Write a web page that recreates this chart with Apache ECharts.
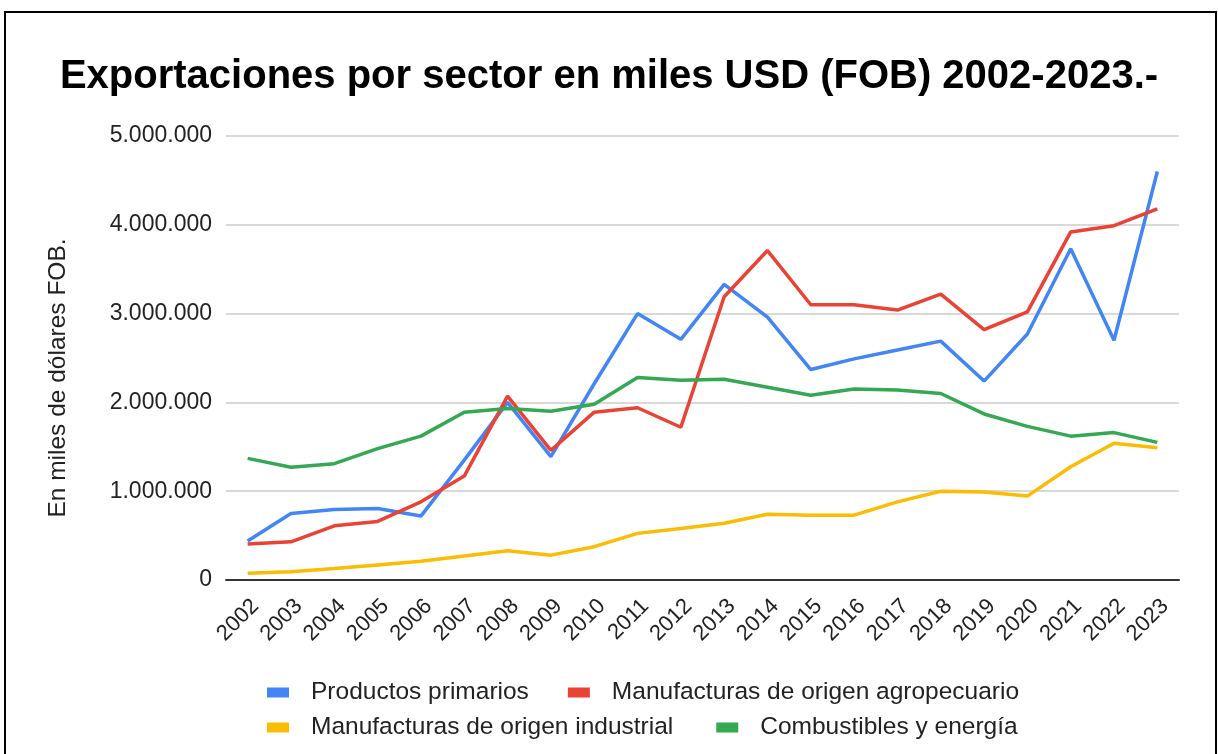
<!DOCTYPE html>
<html>
<head>
<meta charset="utf-8">
<script src="https://cdn.jsdelivr.net/npm/echarts@6/dist/echarts.min.js"></script>
<style>
  html, body { margin: 0; padding: 0; background: #fff; }
  #main { width: 1218px; height: 754px; }
</style>
</head>
<body>
<div id="main"></div>
<script>
// 年份（类目轴）
var years = ['2002', '2003', '2004', '2005', '2006', '2007', '2008', '2009', '2010', '2011',
  '2012', '2013', '2014', '2015', '2016', '2017', '2018', '2019', '2020', '2021', '2022', '2023'];

// 各部门出口（千美元）
var primarios = [440000, 750000, 795000, 806000, 720000, 1350000, 2000000, 1390000, 2210000, 3000000,
  2710000, 3330000, 2960000, 2370000, 2490000, 2590000, 2690000, 2240000, 2770000, 3730000, 2700000, 4600000];
var agropecuario = [405000, 430000, 610000, 660000, 880000, 1170000, 2070000, 1460000, 1890000, 1940000,
  1720000, 3190000, 3710000, 3100000, 3100000, 3040000, 3220000, 2820000, 3020000, 3920000, 3990000, 4180000];
var industrial = [75000, 94000, 130000, 170000, 210000, 270000, 330000, 280000, 375000, 525000,
  580000, 640000, 740000, 730000, 730000, 880000, 1000000, 990000, 945000, 1275000, 1540000, 1490000];
var combustibles = [1370000, 1270000, 1310000, 1480000, 1620000, 1890000, 1930000, 1900000, 1980000, 2280000,
  2250000, 2260000, 2170000, 2080000, 2150000, 2140000, 2100000, 1870000, 1730000, 1620000, 1660000, 1550000];

var seriesNames = ['Productos primarios', 'Manufacturas de origen agropecuario',
  'Manufacturas de origen industrial', 'Combustibles y energía'];
var seriesColors = ['#4285F4', '#EA4335', '#FBBC04', '#34A853'];

var FONT = 'Liberation Sans, Arial, sans-serif';

// 千位分隔符用点
function fmt(v) {
  return String(v).replace(/\B(?=(\d{3})+(?!\d))/g, '.');
}

var myChart = echarts.init(document.getElementById('main'));

function makeSeries(name, data, color) {
  return {
    name: name,
    type: 'line',
    data: data,
    symbol: 'none',
    lineStyle: { color: color, width: 3.5 },
    itemStyle: { color: color }
  };
}

var legendText = { fontFamily: FONT, fontSize: 24.5, color: '#222', padding: [0, 0, 0, 17] };

var option = {
  backgroundColor: '#fff',
  animation: false,
  title: {
    text: 'Exportaciones por sector en miles USD (FOB) 2002-2023.-',
    left: 'center',
    top: 52,
    textStyle: { fontFamily: FONT, fontSize: 40, fontWeight: 'bold', color: '#000' }
  },
  graphic: [{
    type: 'rect',
    shape: { x: 5, y: 12, width: 1211, height: 800 },
    style: { fill: 'none', stroke: '#000', lineWidth: 2 },
    silent: true
  }],
  legend: [{
    data: seriesNames.slice(0, 2),
    left: 262,
    top: 675,
    itemWidth: 22,
    itemHeight: 10,
    itemGap: 39,
    icon: 'rect',
    textStyle: legendText
  }, {
    data: seriesNames.slice(2, 4),
    left: 262,
    top: 710,
    itemWidth: 22,
    itemHeight: 10,
    itemGap: 43,
    icon: 'rect',
    textStyle: legendText
  }],
  grid: { left: 226, right: 39, top: 136, bottom: 174 },
  xAxis: {
    type: 'category',
    data: years,
    boundaryGap: true,
    axisTick: { show: false },
    axisLine: { lineStyle: { color: '#333', width: 2 } },
    axisLabel: {
      rotate: 45, fontFamily: FONT, fontSize: 22, color: '#222', margin: 15, interval: 0,
      verticalAlign: 'top'
    }
  },
  yAxis: {
    type: 'value',
    min: 0,
    max: 5000000,
    interval: 1000000,
    name: 'En miles de dólares FOB.',
    nameLocation: 'middle',
    nameGap: 155,
    nameTextStyle: { fontFamily: FONT, fontSize: 24.5, color: '#222', padding: [0, 40, 0, 0] },
    axisLine: { show: false },
    axisTick: { show: false },
    splitLine: { lineStyle: { color: '#ccc', width: 1.5 } },
    axisLabel: { fontFamily: FONT, fontSize: 23, color: '#222', margin: 14, formatter: fmt }
  },
  series: [
    makeSeries(seriesNames[0], primarios, seriesColors[0]),
    makeSeries(seriesNames[1], agropecuario, seriesColors[1]),
    makeSeries(seriesNames[2], industrial, seriesColors[2]),
    makeSeries(seriesNames[3], combustibles, seriesColors[3])
  ]
};

myChart.setOption(option);
</script>
</body>
</html>
